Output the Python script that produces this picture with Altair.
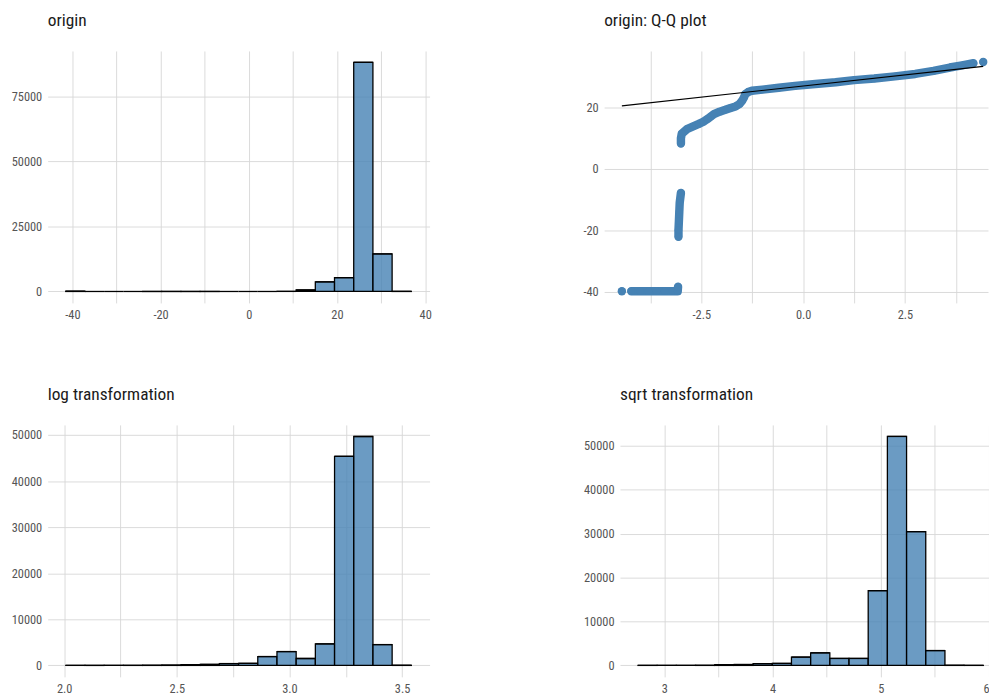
import altair as alt
import pandas as pd

# ---------------- data ----------------
# origin histogram (18 bins)
origin_lo = -41.51
origin_binwidth = 4.354
origin_counts = [110, 0, 0, 0, 8, 10, 6, 8, 0, 0, 0, 25, 560, 3700, 5300, 88150, 14440, 40]

# log transformation histogram
log_lo = 2.0075
log_binwidth = 0.0852
log_counts = [6, 6, 8, 12, 30, 60, 150, 220, 400, 450, 1930, 3010, 1500, 4670, 45380, 49680, 4520, 30]

# sqrt transformation histogram
sqrt_lo = 2.756
sqrt_binwidth = 0.1773
sqrt_counts = [6, 6, 8, 20, 150, 200, 400, 450, 1900, 2870, 1580, 1580, 17020, 52150, 30470, 3390, 30, 6]

# Q-Q plot points (theoretical, sample), grouped into contiguous runs
qq_theoretical = [-4.45,
                  -4.22, -4.0, -3.8, -3.6, -3.4, -3.2, -3.08, -3.07,
                  -3.06, -3.06, -3.05, -3.04, -3.03, -3.0,
                  -3.00, -3.00, -2.98, -2.84, -2.70, -2.56, -2.45, -2.35, -2.27, -2.19,
                  -2.05, -1.91, -1.78, -1.66, -1.56, -1.50, -1.45, -1.42, -1.35, -1.26,
                  -1.0, -0.6, -0.2, 0.3, 0.8, 1.25, 1.75, 2.25, 2.75, 3.2, 3.6, 3.9, 4.18,
                  4.42]
qq_sample = [-39.9,
             -39.9, -39.9, -39.9, -39.9, -39.9, -39.9, -39.9, -38.4,
             -22.1, -20.0, -17.0, -14.0, -11.0, -7.8,
             8.3, 10.0, 11.5, 13.1, 13.9, 14.7, 15.4, 16.3, 17.1, 17.9,
             18.7, 19.3, 19.9, 20.4, 21.2, 22.2, 23.4, 24.4, 25.1, 25.5,
             25.9, 26.5, 27.1, 27.7, 28.3, 29.0, 29.5, 30.2, 31.0, 32.0, 33.1, 33.8, 34.5,
             34.9]
qq_run = [0] + [1] * 8 + [2] * 6 + [3] * 33 + [4]

qq_line_x = [-4.45, 4.42]
qq_line_y = [20.6, 33.5]

titles = ["origin", "origin: Q-Q plot", "log transformation", "sqrt transformation"]

# ---------------- styling ----------------
FONT = "'Roboto Condensed', 'Liberation Sans Narrow', 'DejaVu Sans Condensed', Roboto"
BAR_FILL = "steelblue"
GRID = "#d6d6d6"


def make_axis(values, mod, fmt, pad, flush=False):
    expr = ("abs(datum.value %% %s) < 1e-9 ? replace(format(datum.value, '%s'), '\u2212', '-') : ''"
            % (mod, fmt))
    return alt.Axis(values=values, labelExpr=expr, grid=True, ticks=False, domain=False,
                    labelPadding=pad, title=None, labelFlush=flush)


def panel_title(text):
    return alt.TitleParams(text=text, frame="group", anchor="start")


def hist_panel(title, lo, bw, counts, xdom, ydom, xvals, xmod, xfmt, yvals, ymod, w, h,
               flush=False):
    df = pd.DataFrame({"start": [lo + i * bw for i in range(len(counts))], "count": counts})
    df["end"] = df["start"] + bw
    xs = alt.Scale(domain=xdom, nice=False, zero=False)
    ys = alt.Scale(domain=ydom, nice=False, zero=False)
    base = alt.Chart(df)
    bars = base.transform_filter("datum.count > 0").mark_rect(
        fill=BAR_FILL, fillOpacity=0.8, stroke="black", strokeWidth=1.3
    ).encode(
        x=alt.X("start:Q", scale=xs, axis=make_axis(xvals, xmod, xfmt, 6, flush)),
        x2="end:Q",
        y=alt.Y("count:Q", scale=ys, axis=make_axis(yvals, ymod, "d", 6)),
        y2=alt.datum(0),
    )
    tops = base.mark_rule(color="black", strokeWidth=1.3).encode(
        x="start:Q", x2="end:Q", y="count:Q"
    )
    return alt.layer(bars, tops).properties(width=w, height=h, title=panel_title(title))


H = 254

origin_chart = hist_panel(titles[0], origin_lo, origin_binwidth, origin_counts,
                          [-45.6, 41.0], [-4400, 92500],
                          [-40, -30, -20, -10, 0, 10, 20, 30, 40], 20, "d",
                          [0, 12500, 25000, 37500, 50000, 62500, 75000, 87500], 25000, 385, H)

log_chart = hist_panel(titles[2], log_lo, log_binwidth, log_counts,
                       [1.927, 3.622], [-2484, 52190],
                       [2.0, 2.25, 2.5, 2.75, 3.0, 3.25, 3.5], 0.5, ".1f",
                       [0, 5000, 10000, 15000, 20000, 25000, 30000, 35000, 40000, 45000, 50000],
                       10000, 385, H)

sqrt_chart = hist_panel(titles[3], sqrt_lo, sqrt_binwidth, sqrt_counts,
                        [2.59, 6.0], [-2608, 54780],
                        [3, 3.5, 4, 4.5, 5, 5.5, 6], 1, "d",
                        [0, 5000, 10000, 15000, 20000, 25000, 30000, 35000, 40000, 45000, 50000],
                        10000, 372, H, flush=True)

# Q-Q panel
qq_df = pd.DataFrame({"theoretical": qq_theoretical, "sample": qq_sample, "run": qq_run,
                      "idx": list(range(len(qq_sample)))})
line_df = pd.DataFrame({"theoretical": qq_line_x, "sample": qq_line_y})
qx = alt.Scale(domain=[-4.885, 4.538], nice=False, zero=False)
qy = alt.Scale(domain=[-43.7, 38.5], nice=False, zero=False)
qq_x_axis = make_axis([-3.75, -2.5, -1.25, 0, 1.25, 2.5, 3.75], 2.5, ".1f", 6)
qq_y_axis = make_axis([-40, -30, -20, -10, 0, 10, 20, 30], 20, "d", 6)

qq_band = alt.Chart(qq_df).mark_line(
    color="#4682B4", strokeWidth=8.5, strokeCap="round", strokeJoin="round"
).encode(
    x=alt.X("theoretical:Q", scale=qx, axis=qq_x_axis),
    y=alt.Y("sample:Q", scale=qy, axis=qq_y_axis),
    detail="run:N",
    order="idx:Q",
)
qq_pts = alt.Chart(qq_df).mark_circle(color="#4682B4", opacity=1, size=55).encode(
    x="theoretical:Q", y="sample:Q"
)
qq_line = alt.Chart(line_df).mark_line(color="black", strokeWidth=1.2).encode(
    x="theoretical:Q", y="sample:Q"
)
qq_chart = alt.layer(qq_band, qq_pts, qq_line).properties(
    width=387, height=H, title=panel_title(titles[1]))

top = alt.hconcat(origin_chart, qq_chart, spacing=176, bounds="flush")
bottom = alt.hconcat(log_chart, sqrt_chart, spacing=192, bounds="flush")

chart = alt.vconcat(top, bottom, spacing=65).properties(
    padding={"left": 3, "top": 1.5, "right": 0, "bottom": 0}
).configure_view(stroke=None).configure_axis(
    labelFont=FONT, labelFontSize=12.5, labelColor="#555555",
    gridColor=GRID, gridWidth=0.9,
).configure_title(
    font=FONT, fontSize=17.5, fontWeight="normal", color="#1a1a1a", anchor="start",
    baseline="alphabetic", offset=21.2,
)

chart.save("out.html", embed_options={"renderer": "svg", "actions": False})
